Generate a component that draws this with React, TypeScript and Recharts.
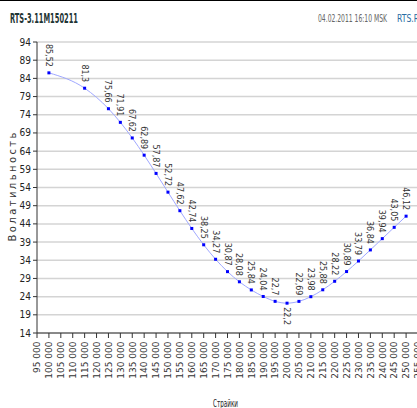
import React from 'react';
import { LineChart, Line, XAxis, YAxis, CartesianGrid, LabelList } from 'recharts';

// strikes and implied volatility
const strikes = [
  100000, 115000, 125000, 130000, 135000, 140000, 145000, 150000, 155000, 160000,
  165000, 170000, 175000, 180000, 185000, 190000, 195000, 200000, 205000, 210000,
  215000, 220000, 225000, 230000, 235000, 240000, 245000, 250000,
];
const vols = [
  85.52, 81.3, 75.66, 71.91, 67.62, 62.89, 57.87, 52.72, 47.62, 42.74,
  38.25, 34.27, 30.87, 28.08, 25.84, 24.04, 22.7, 22.2, 22.69, 23.98,
  25.88, 28.22, 30.89, 33.79, 36.84, 39.94, 43.05, 46.12,
];
const xTicks = [
  95000, 100000, 105000, 110000, 115000, 120000, 125000, 130000, 135000, 140000,
  145000, 150000, 155000, 160000, 165000, 170000, 175000, 180000, 185000, 190000,
  195000, 200000, 205000, 210000, 215000, 220000, 225000, 230000, 235000, 240000,
  245000, 250000, 255000,
];
const yTicks = [14, 19, 24, 29, 34, 39, 44, 49, 54, 59, 64, 69, 74, 79, 84, 89, 94];

const data = strikes.map((s, i) => ({ strike: s, vol: vols[i] }));
const minVol = Math.min(...vols);

const narrow = "'Liberation Sans Narrow', 'DejaVu Sans Condensed', sans-serif";

const XTick = ({ x, y, payload }: any) => {
  const ax = x + 3.3;
  const ay = y + 1.5;
  return (
    <text x={ax} y={ay} transform={`rotate(-90 ${ax} ${ay})`} textAnchor="end"
      fontFamily="'DejaVu Sans', sans-serif" fontSize={9} fill="#333">
      {`${payload.value / 1000} 000`}
    </text>
  );
};

const Dot = ({ cx, cy }: any) => (
  <rect x={cx - 1.5} y={cy - 1.5} width={3} height={3} fill="#0000ff" />
);

const PointLabel = ({ x, y, value }: any) => {
  const below = value === minVol;
  const ax = x - 3;
  const ay = below ? y + 4 : y - 6;
  return (
    <text x={ax} y={ay} transform={`rotate(90 ${ax} ${ay})`} textAnchor={below ? 'start' : 'end'}
      fontFamily="'DejaVu Sans', sans-serif" fontSize={8} fill="#333">
      {String(value).replace('.', ',')}
    </text>
  );
};

export default function App() {
  return (
    <div style={{ position: 'absolute', left: 0, top: 0, width: 417, height: 408, overflow: 'hidden', background: '#fff' }}>
      <LineChart width={420} height={420} data={data} margin={{ top: 42, right: 2, bottom: 0, left: 0 }}>
        <CartesianGrid vertical={false} stroke="#d4d4d4" strokeWidth={1.5} />
        <XAxis dataKey="strike" type="number" domain={[95000, 255000]} ticks={xTicks} interval={0}
          height={87} tickSize={5} tick={<XTick />} axisLine={{ stroke: '#333' }} tickLine={{ stroke: '#333' }} />
        <YAxis type="number" domain={[14, 94]} ticks={yTicks} interval={0} width={37} tickSize={4}
          axisLine={{ stroke: '#333' }} tickLine={{ stroke: '#333' }}
          tick={{ fontFamily: narrow, fontSize: 10, fill: '#222' }} />
        <Line type="monotone" dataKey="vol" stroke="#a0a8ff" strokeWidth={1} dot={<Dot />}
          activeDot={false} isAnimationActive={false}>
          <LabelList dataKey="vol" content={<PointLabel />} />
        </Line>
      </LineChart>
      <svg width={417} height={408} style={{ position: 'absolute', left: 0, top: 0, pointerEvents: 'none' }}>
        <rect x={0} y={0} width={417} height={1} fill="#000" />
        <text x={10} y={23} fontFamily={narrow} fontSize={14} fontWeight="bold" fill="#1f3535"
          textLength={68} lengthAdjust="spacingAndGlyphs">RTS-3.11M150211</text>
        <text x={318} y={22} fontFamily={narrow} fontSize={11} fill="#666"
          textLength={69} lengthAdjust="spacingAndGlyphs">04.02.2011 16:10 MSK</text>
        <text x={397} y={22} fontFamily={narrow} fontSize={11} fill="#2b6ca3"
          textLength={22} lengthAdjust="spacingAndGlyphs">RTS.R</text>
        <text x={16} y={187} transform="rotate(-90 16 187)" textAnchor="middle"
          fontFamily="'DejaVu Sans', sans-serif" fontSize={10} fill="#333"
          textLength={109} lengthAdjust="spacing">Волатильность</text>
        <text x={213} y={407} fontFamily={narrow} fontSize={11} fill="#222"
          textLength={25} lengthAdjust="spacingAndGlyphs">Страйки</text>
      </svg>
    </div>
  );
}
